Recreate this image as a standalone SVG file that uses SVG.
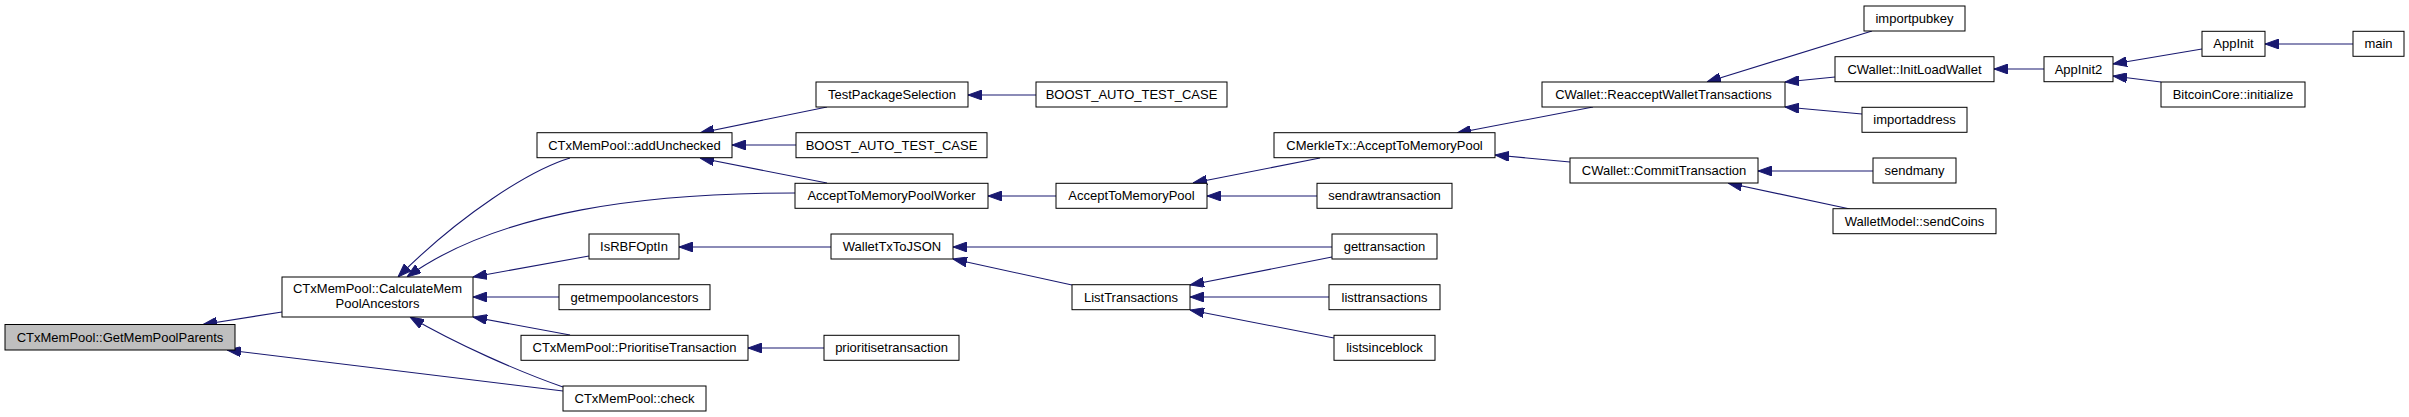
<svg xmlns="http://www.w3.org/2000/svg" width="2409" height="417" viewBox="0 0 2409 417">
<style>
.n rect{fill:#ffffff;stroke:#000000;stroke-width:1}
.n.hl rect{fill:#bfbfbf}
.n text{font-family:"Liberation Sans",Arial,sans-serif;font-size:13px;fill:#000000;text-anchor:middle}
.e path{fill:none;stroke:#191970;stroke-width:1.1;marker-end:url(#ah)}
</style>
<defs>
<marker id="ah" markerUnits="userSpaceOnUse" markerWidth="14" markerHeight="10" refX="14" refY="5" orient="auto">
<path d="M0,0 L14,5 L0,10 Z" fill="#191970" stroke="#191970" stroke-width="1"/>
</marker>
</defs>
<rect width="2409" height="417" fill="#ffffff"/>
<g id="edges" class="e">
<path d="M282,312 L203,324.5"/>
<path d="M563,391 L227,350"/>
<path d="M570,158 C530,170 460,215 398,277"/>
<path d="M795,193 C650,193 500,210 407,277"/>
<path d="M589,256 L473,277"/>
<path d="M559,297 L473,297"/>
<path d="M570,335 L473,317"/>
<path d="M563,387 C520,372 458,345 410,317"/>
<path d="M827,107 L700,133"/>
<path d="M796,145 L732,145"/>
<path d="M827,183 L700,158"/>
<path d="M1036,95 L968,95"/>
<path d="M1056,196 L988,196"/>
<path d="M1320,158 L1193,183"/>
<path d="M1317,196 L1207,196"/>
<path d="M831,247 L679,247"/>
<path d="M1332,247 L953,247"/>
<path d="M1072,285 L953,259"/>
<path d="M1332,257 L1190,285"/>
<path d="M1329,297 L1190,297"/>
<path d="M1334,338 L1190,310"/>
<path d="M824,348 L748,348"/>
<path d="M1593,107 L1457,133"/>
<path d="M1570,162 L1495,155"/>
<path d="M1872,31 L1707,82"/>
<path d="M1835,77 L1785,82"/>
<path d="M1862,114 L1785,107"/>
<path d="M2044,69 L1994,69"/>
<path d="M1873,171 L1758,171"/>
<path d="M1850,209 L1728,183"/>
<path d="M2202,49 L2113,64"/>
<path d="M2161,82 L2113,76"/>
<path d="M2353,44 L2265,44"/>
</g>
<g id="n_getmempoolparents" class="n hl"><rect x="5" y="324.5" width="230" height="25.5"/><text x="120" y="341.5">CTxMemPool::GetMemPoolParents</text></g>
<g id="n_calculate" class="n"><rect x="282" y="277" width="191" height="40"/><text x="377.5" y="293">CTxMemPool::CalculateMem</text><text x="377.5" y="308">PoolAncestors</text></g>
<g id="n_addunchecked" class="n"><rect x="537" y="132.7" width="195" height="25"/><text x="634.5" y="149.7">CTxMemPool::addUnchecked</text></g>
<g id="n_isrbfoptin" class="n"><rect x="589" y="234" width="90" height="25"/><text x="634" y="251">IsRBFOptIn</text></g>
<g id="n_getmempoolancestors" class="n"><rect x="559" y="284.7" width="151" height="25"/><text x="634.5" y="301.7">getmempoolancestors</text></g>
<g id="n_prioritisetransaction_m" class="n"><rect x="521" y="335.3" width="227" height="25"/><text x="634.5" y="352.3">CTxMemPool::PrioritiseTransaction</text></g>
<g id="n_check" class="n"><rect x="563" y="386" width="143" height="25"/><text x="634.5" y="403">CTxMemPool::check</text></g>
<g id="n_testpackageselection" class="n"><rect x="816" y="82" width="152" height="25"/><text x="892" y="99">TestPackageSelection</text></g>
<g id="n_boost1" class="n"><rect x="796" y="132.7" width="191" height="25"/><text x="891.5" y="149.7">BOOST_AUTO_TEST_CASE</text></g>
<g id="n_worker" class="n"><rect x="795" y="183.3" width="193" height="25"/><text x="891.5" y="200.3">AcceptToMemoryPoolWorker</text></g>
<g id="n_wallettxtojson" class="n"><rect x="831" y="234" width="122" height="25"/><text x="892" y="251">WalletTxToJSON</text></g>
<g id="n_prioritisetransaction" class="n"><rect x="824" y="335.3" width="135" height="25"/><text x="891.5" y="352.3">prioritisetransaction</text></g>
<g id="n_boost2" class="n"><rect x="1036" y="82" width="191" height="25"/><text x="1131.5" y="99">BOOST_AUTO_TEST_CASE</text></g>
<g id="n_accepttomemorypool" class="n"><rect x="1056" y="183.3" width="151" height="25"/><text x="1131.5" y="200.3">AcceptToMemoryPool</text></g>
<g id="n_listtransactions_f" class="n"><rect x="1072" y="284.7" width="118" height="25"/><text x="1131" y="301.7">ListTransactions</text></g>
<g id="n_cmerkletx" class="n"><rect x="1274" y="132.7" width="221" height="25"/><text x="1384.5" y="149.7">CMerkleTx::AcceptToMemoryPool</text></g>
<g id="n_sendrawtransaction" class="n"><rect x="1317" y="183.3" width="135" height="25"/><text x="1384.5" y="200.3">sendrawtransaction</text></g>
<g id="n_gettransaction" class="n"><rect x="1332" y="234" width="105" height="25"/><text x="1384.5" y="251">gettransaction</text></g>
<g id="n_listtransactions" class="n"><rect x="1329" y="284.7" width="111" height="25"/><text x="1384.5" y="301.7">listtransactions</text></g>
<g id="n_listsinceblock" class="n"><rect x="1334" y="335.3" width="101" height="25"/><text x="1384.5" y="352.3">listsinceblock</text></g>
<g id="n_reaccept" class="n"><rect x="1542" y="82" width="243" height="25"/><text x="1663.5" y="99">CWallet::ReacceptWalletTransactions</text></g>
<g id="n_commit" class="n"><rect x="1570" y="158" width="188" height="25"/><text x="1664" y="175">CWallet::CommitTransaction</text></g>
<g id="n_importpubkey" class="n"><rect x="1864" y="6" width="101" height="25"/><text x="1914.5" y="23">importpubkey</text></g>
<g id="n_initloadwallet" class="n"><rect x="1835" y="56.7" width="159" height="25"/><text x="1914.5" y="73.7">CWallet::InitLoadWallet</text></g>
<g id="n_importaddress" class="n"><rect x="1862" y="107.3" width="105" height="25"/><text x="1914.5" y="124.3">importaddress</text></g>
<g id="n_sendmany" class="n"><rect x="1873" y="158" width="83" height="25"/><text x="1914.5" y="175">sendmany</text></g>
<g id="n_sendcoins" class="n"><rect x="1833" y="208.7" width="163" height="25"/><text x="1914.5" y="225.7">WalletModel::sendCoins</text></g>
<g id="n_appinit2" class="n"><rect x="2044" y="56.7" width="69" height="25"/><text x="2078.5" y="73.7">AppInit2</text></g>
<g id="n_appinit" class="n"><rect x="2202" y="31.3" width="63" height="25"/><text x="2233.5" y="48.3">AppInit</text></g>
<g id="n_main" class="n"><rect x="2353" y="31.3" width="51" height="25"/><text x="2378.5" y="48.3">main</text></g>
<g id="n_bitcoincore" class="n"><rect x="2161" y="82" width="144" height="25"/><text x="2233" y="99">BitcoinCore::initialize</text></g>
</svg>
